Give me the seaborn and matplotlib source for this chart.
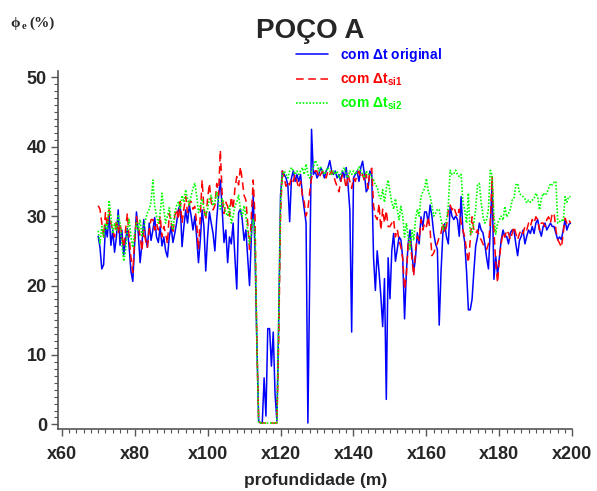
import matplotlib
matplotlib.use("Agg")
import matplotlib.pyplot as plt
from matplotlib.ticker import MultipleLocator, FuncFormatter
import numpy as np
import seaborn as sns

sns.set_style('ticks')
plt.rcParams['font.family'] = ['Liberation Sans', 'DejaVu Sans']
plt.rcParams['font.weight'] = 'bold'
plt.rcParams['mathtext.fontset'] = 'custom'
plt.rcParams['mathtext.rm'] = 'Liberation Sans:bold'
plt.rcParams['mathtext.it'] = 'Liberation Sans:bold'
plt.rcParams['mathtext.bf'] = 'Liberation Sans:bold'

# profundidade (m), amostrada a cada 0.5 m
depth = np.arange(70, 200, 0.5)

# phi_e (%) com dt original
phi_orig = [
    27.1, 25.5, 22.4, 23.0, 28.5, 27.0, 30.2, 25.8, 28.0, 24.8,
    27.0, 30.9, 25.8, 28.0, 24.4, 26.5, 28.2, 25.5, 22.0, 20.6,
    26.0, 30.6, 27.5, 23.3, 26.0, 29.5, 27.0, 25.5, 29.0, 26.5,
    28.0, 29.8, 27.0, 26.2, 28.5, 25.7, 27.0, 25.0, 24.1, 27.0,
    28.5, 26.2, 27.5, 29.0, 31.0, 31.6, 25.6, 28.5, 30.9, 29.0,
    31.6, 30.0, 28.0, 30.0, 27.0, 23.3, 26.5, 30.9, 28.5, 22.1,
    27.0, 30.6, 29.0, 27.5, 25.0, 29.5, 32.8, 35.2, 31.0, 26.2,
    28.0, 23.3, 27.0, 26.0, 29.0, 24.0, 19.5, 30.5, 31.0, 29.5,
    26.5, 28.0, 24.0, 20.0, 27.0, 33.0, 25.0, 12.0, 0.5, 0.2,
    0.3, 6.7, 1.2, 13.8, 13.8, 8.4, 13.3, 4.3, 0.5, 15.0,
    33.0, 36.5, 36.0, 35.5, 34.5, 29.2, 35.5, 36.5, 35.0, 36.0,
    35.0, 36.0, 33.0, 31.0, 29.0, 0.2, 22.0, 42.5, 36.0, 36.5,
    35.5, 36.0, 37.0, 36.5, 35.5, 36.5, 37.0, 38.0, 36.5, 36.0,
    36.5, 35.5, 36.0, 35.0, 36.5, 35.5, 37.0, 34.5, 30.9, 13.3,
    35.5, 36.0, 36.5, 35.0, 37.0, 37.9, 36.0, 33.5, 34.0, 36.5,
    36.0, 24.0, 19.3, 25.0, 22.0, 18.5, 14.1, 21.0, 3.6, 24.0,
    18.1, 25.0, 27.5, 23.5, 25.2, 27.0, 26.6, 24.0, 15.2, 22.0,
    26.1, 28.0, 25.0, 21.9, 24.0, 27.6, 26.0, 29.9, 28.5, 30.6,
    30.6, 29.0, 31.6, 30.0, 27.5, 26.0, 25.2, 14.3, 22.0, 27.5,
    28.9, 27.0, 26.0, 31.4, 30.0, 29.5, 30.0, 29.5, 27.1, 32.8,
    28.0, 26.2, 22.0, 16.5, 16.5, 18.0, 22.0, 25.7, 27.0, 29.0,
    28.0, 27.6, 26.0, 24.0, 22.4, 28.0, 35.0, 20.9, 24.2, 21.5,
    24.0, 26.6, 28.0, 27.0, 27.1, 26.0, 27.6, 28.0, 28.0, 26.0,
    24.3, 26.5, 27.1, 28.0, 26.0, 27.1, 28.0, 27.5, 28.5, 27.5,
    29.0, 29.5, 28.0, 27.1, 28.5, 29.0, 28.0, 28.5, 29.0, 28.5,
    28.5, 27.5, 26.6, 27.0, 26.6, 28.0, 29.5, 28.0, 28.8, 29.0,
]

# phi_e (%) com dt_si1
phi_si1 = [
    31.5, 31.0, 29.0, 27.0, 30.5, 28.5, 30.9, 29.0, 28.0, 27.0,
    29.5, 27.5, 29.0, 27.1, 25.5, 28.0, 30.4, 27.0, 24.0, 21.9,
    26.5, 29.9, 28.5, 27.1, 25.0, 28.0, 26.5, 25.5, 28.0, 29.5,
    29.5, 28.0, 29.0, 28.0, 30.0, 27.0, 28.5, 27.5, 26.0, 30.4,
    29.0, 27.5, 30.0, 31.0, 29.5, 32.1, 29.0, 31.0, 32.8, 30.5,
    32.0, 32.1, 31.0, 31.4, 29.0, 25.2, 30.0, 35.2, 31.0, 29.5,
    32.5, 34.7, 32.0, 30.9, 31.5, 34.7, 33.0, 39.5, 33.0, 30.4,
    32.0, 31.4, 30.0, 32.8, 31.0, 34.0, 35.7, 34.5, 37.1, 35.2,
    33.0, 32.3, 29.0, 25.2, 30.0, 35.2, 30.0, 12.0, 0.5, 0.2,
    0.2, 0.2, 0.2, 0.2, 0.2, 0.2, 0.2, 0.2, 0.2, 12.0,
    30.0, 36.5, 35.5, 34.3, 35.0, 34.5, 35.5, 35.0, 36.0, 35.0,
    34.0, 35.0, 33.0, 32.0, 30.0, 31.0, 33.5, 35.5, 36.0, 36.5,
    36.5, 35.5, 36.0, 36.5, 36.0, 35.5, 36.5, 36.0, 36.5, 36.0,
    35.0, 34.3, 33.5, 35.0, 36.0, 35.5, 34.0, 36.0, 35.0, 34.0,
    35.5, 35.0, 36.0, 36.5, 35.5, 36.0, 35.0, 36.0, 34.0, 36.5,
    36.9, 31.5, 30.0, 29.5, 31.8, 28.0, 31.0, 29.0, 30.8, 28.5,
    28.5, 29.0, 29.5, 27.0, 28.1, 26.5, 25.5, 23.8, 19.5, 21.4,
    26.2, 26.6, 24.0, 21.4, 25.0, 27.1, 26.5, 29.5, 28.0, 29.0,
    28.5, 29.9, 28.0, 24.3, 24.7, 25.5, 26.1, 27.0, 27.6, 29.0,
    27.6, 28.5, 30.9, 31.6, 30.9, 31.4, 30.5, 29.9, 31.0, 29.0,
    28.0, 27.0, 25.0, 23.3, 26.5, 29.9, 28.0, 27.5, 28.0, 27.0,
    26.6, 26.0, 25.5, 25.2, 26.0, 29.0, 35.7, 28.0, 23.3, 20.4,
    24.0, 26.1, 27.6, 27.0, 28.0, 27.5, 26.6, 27.5, 28.5, 27.5,
    26.6, 27.5, 28.0, 27.5, 28.5, 28.0, 29.0, 28.5, 29.5, 29.0,
    29.9, 29.5, 28.0, 29.0, 29.0, 28.5, 29.5, 29.9, 29.0, 30.4,
    30.4, 28.0, 26.6, 26.1, 25.5, 27.5, 29.7, 29.0, 29.5, 29.0,
]

# phi_e (%) com dt_si2
phi_si2 = [
    27.9, 26.0, 28.5, 27.0, 29.0, 28.0, 32.3, 30.0, 27.5, 29.0,
    28.0, 30.2, 29.0, 26.0, 23.5, 25.0, 28.0, 29.5, 27.0, 25.5,
    27.5, 29.0, 28.0, 29.5, 27.0, 28.5, 29.5, 30.5, 31.0, 32.0,
    35.2, 31.5, 30.0, 29.0, 30.5, 33.3, 31.0, 29.0, 30.0, 31.2,
    29.5, 28.0, 30.5, 31.5, 32.0, 31.0, 33.0, 32.0, 33.8, 32.5,
    31.5, 33.0, 34.0, 34.7, 33.0, 30.5, 31.5, 32.5, 31.0, 30.0,
    31.0, 32.5, 33.0, 31.5, 32.0, 33.5, 32.0, 31.0, 32.5, 31.5,
    30.5, 30.0, 31.5, 29.0, 30.0, 31.5, 32.0, 33.0, 31.0, 30.0,
    31.5, 30.0, 28.0, 26.0, 27.5, 29.5, 28.0, 12.0, 0.2, 0.2,
    0.2, 0.2, 0.2, 0.2, 0.2, 0.2, 0.2, 0.2, 0.2, 15.0,
    32.0, 36.0, 36.5, 36.0, 35.5, 36.5, 37.0, 36.5, 36.0, 36.5,
    36.0, 36.5, 37.0, 36.0, 37.5, 36.0, 35.5, 36.5, 37.0, 38.0,
    37.5, 36.5, 37.0, 36.5, 36.0, 36.5, 37.0, 36.5, 36.0, 36.5,
    36.0, 36.5, 35.5, 36.0, 36.6, 37.0, 36.0, 35.5, 36.5, 36.0,
    36.5, 36.0, 36.5, 37.1, 36.5, 36.0, 35.5, 36.5, 36.0, 36.2,
    35.5, 35.2, 34.5, 34.2, 33.0, 32.5, 33.8, 32.0, 34.0, 35.2,
    33.5, 32.0, 31.0, 32.5, 30.9, 29.5, 31.4, 30.0, 27.0, 29.0,
    27.0, 25.2, 28.0, 26.5, 29.5, 31.0, 30.0, 32.8, 33.5, 34.0,
    35.4, 33.5, 32.9, 31.5, 30.0, 30.4, 31.0, 30.9, 29.5, 28.1,
    28.5, 29.5, 31.6, 36.6, 36.0, 36.1, 36.6, 36.0, 35.7, 36.0,
    32.0, 30.9, 29.0, 33.3, 27.4, 27.5, 29.0, 31.0, 34.5, 34.7,
    32.0, 30.0, 29.0, 29.5, 31.0, 36.6, 35.9, 30.0, 27.4, 29.0,
    29.5, 30.0, 29.4, 31.4, 29.9, 30.4, 31.0, 32.3, 32.5, 34.5,
    34.7, 33.3, 33.0, 32.8, 32.5, 31.9, 32.3, 32.0, 32.3, 32.5,
    33.3, 32.8, 30.9, 32.5, 33.3, 33.0, 33.3, 34.0, 34.7, 34.5,
    34.9, 35.0, 29.0, 29.2, 29.5, 29.2, 32.8, 32.0, 32.8, 32.8,
]

labels = [r'com $\Delta$t original', r'com $\Delta$t$_{\mathrm{si1}}$', r'com $\Delta$t$_{\mathrm{si2}}$']
colors = ['#0000FF', '#FF0000', '#00FF00']

fig = plt.figure(figsize=(5.97, 4.91), dpi=100)
ax = fig.add_axes([0.0972, 0.1257, 0.8615, 0.7297])

sns.lineplot(x=depth, y=phi_orig, color=colors[0], linewidth=1.1, label=labels[0], ax=ax)
sns.lineplot(x=depth, y=phi_si1, color=colors[1], linewidth=1.1, linestyle=(0, (5, 3)),
             label=labels[1], ax=ax)
sns.lineplot(x=depth, y=phi_si2, color=colors[2], linewidth=1.2, linestyle=(0, (1, 1)),
             label=labels[2], ax=ax)

ax.set_xlim(59, 200)
ax.set_ylim(-0.7, 50.9)
ax.xaxis.set_major_locator(MultipleLocator(20))
ax.xaxis.set_minor_locator(MultipleLocator(2))
ax.yaxis.set_major_locator(MultipleLocator(10))
ax.yaxis.set_minor_locator(MultipleLocator(1))
ax.xaxis.set_major_formatter(FuncFormatter(lambda v, p: 'x%d' % v))

sns.despine(ax=ax)
for s in ['left', 'bottom']:
    ax.spines[s].set_color('#555555')
    ax.spines[s].set_linewidth(1.2)
ax.tick_params(which='major', length=5, width=1, color='#555555', labelsize=13)
ax.tick_params(which='minor', length=3, width=0.8, color='#555555')
ax.tick_params(axis='x', which='major', pad=7)
ax.tick_params(axis='y', which='major', pad=3)
for t in ax.get_xticklabels() + ax.get_yticklabels():
    t.set_fontweight('bold')

ax.set_xlabel('')
ax.set_ylabel('')
fig.text(0.529, 0.022, 'profundidade (m)', ha='center', va='center',
         fontsize=12.5, fontweight='bold')

fig.text(0.519, 0.936, 'POÇO A', ha='center', va='center', fontsize=20, fontweight='bold')

fig.text(0.018, 0.953, 'ϕ', family='Liberation Serif', fontsize=11, fontweight='bold',
         ha='left', va='center')
fig.text(0.037, 0.947, 'e', family='Liberation Serif', fontsize=7.5, fontweight='bold',
         ha='left', va='center')
fig.text(0.050, 0.953, '(%)', family='Liberation Serif', fontsize=11, fontweight='bold',
         ha='left', va='center')

leg = ax.legend(loc='upper left', bbox_to_anchor=(0.496, 0.906), bbox_transform=fig.transFigure,
                frameon=False, fontsize=10, handlelength=2.3, handletextpad=0.85,
                labelspacing=0.55, borderpad=0, borderaxespad=0, labelcolor='linecolor')

fig.savefig('out.png', dpi=100)
